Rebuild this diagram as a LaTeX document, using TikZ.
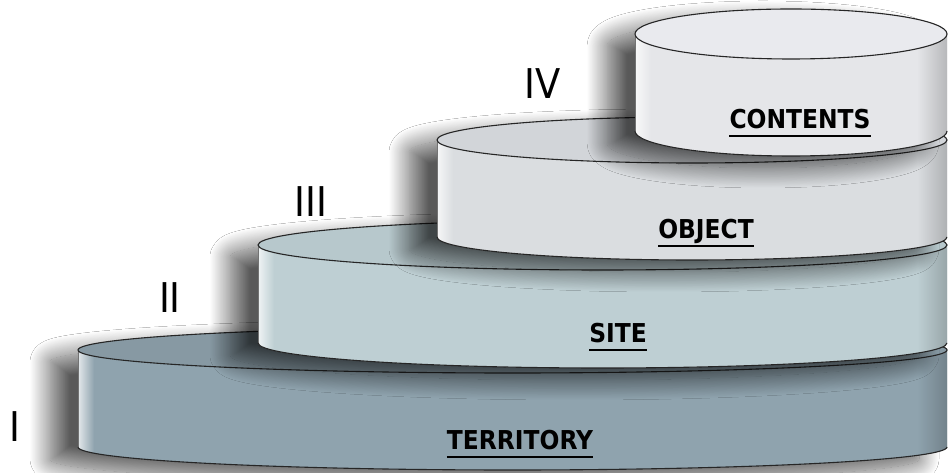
\documentclass[tikz,border=0pt]{standalone}
\usepackage{fontspec}
\setmainfont{DejaVu Sans}
\newfontfamily\numfont{DejaVu Sans Condensed}
\newfontfamily\labfont{DejaVu Sans Condensed Bold}
\usetikzlibrary{shadows.blur}
\definecolor{terside}{HTML}{8FA3AE}
\definecolor{tertop}{HTML}{8799A3}
\definecolor{siteside}{HTML}{BECFD3}
\definecolor{sitetop}{HTML}{B7C8CC}
\definecolor{objside}{HTML}{DADDE0}
\definecolor{objtop}{HTML}{D2D5D9}
\definecolor{conside}{HTML}{E5E6E9}
\definecolor{contop}{HTML}{E9EAEE}
\tikzset{
  rim/.style={draw=black!85, line width=1.1pt},
  sideedge/.style={draw=black!55, line width=0.6pt},
  numtxt/.style={font=\numfont\fontsize{41}{41}\selectfont, anchor=base, inner sep=0pt},
  labtxt/.style={font=\labfont\fontsize{26}{26}\selectfont, anchor=base, inner sep=0pt},
  uline/.style={line width=2.5pt, black},
  dshadow/.style={blur shadow={shadow xshift=-28pt, shadow yshift=-12pt, shadow blur radius=20pt, shadow blur steps=24, shadow opacity=65}},
}
% #1 cx, #2 a, #3 ytop, #4 ybot, #5 b, #6 side colour, #7 top colour
\newcommand\drawcyl[7]{%
  \pgfmathsetmacro\cylL{#1-#2}%
  \pgfmathsetmacro\cylR{#1+#2}%
  \path[dshadow, fill=#6] (\cylL,#3) -- (\cylL,#4)
     arc[start angle=180, end angle=360, x radius=#2pt, y radius=#5pt] -- (\cylR,#3)
     arc[start angle=0, end angle=180, x radius=#2pt, y radius=#5pt] -- cycle;
  \begin{scope}
    \clip (\cylL,#3) -- (\cylL,#4)
     arc[start angle=180, end angle=360, x radius=#2pt, y radius=#5pt] -- (\cylR,#3)
     arc[start angle=0, end angle=-180, x radius=#2pt, y radius=#5pt] -- cycle;
    \fill[#6] (\cylL,#4-#5) rectangle (\cylR,#3);
    \fill[left color=white!75!#6, right color=#6] (\cylL,#4-#5) rectangle (\cylL+16,#3);
    \fill[left color=#6, right color=#6!80!black] (\cylR-30,#4-#5) rectangle (\cylR,#3);
  \end{scope}
  \draw[sideedge] (\cylL,#3) -- (\cylL,#4);
  \draw[rim] (\cylL,#4) arc[start angle=180, end angle=360, x radius=#2pt, y radius=#5pt];
  \filldraw[rim, fill=#7] (#1,#3) ellipse[x radius=#2pt, y radius=#5pt];
}
\begin{document}
\begin{tikzpicture}[x=1pt, y=1pt]
\fill[white] (0,0) rectangle (949,473);
\useasboundingbox (0,0) rectangle (949,473);
\clip (0,0) rectangle (949,473);
% I  territory
\drawcyl{512.5}{434.5}{123}{26}{23}{terside}{tertop}
% II site
\drawcyl{602.5}{344.5}{228}{130}{25}{siteside}{sitetop}
% III object
\drawcyl{692}{255}{333}{236}{23}{objside}{objtop}
% IV contents
\drawcyl{791}{156}{439}{342}{25}{conside}{contop}
% labels
\node[labtxt] (ter) at (520,23) {TERRITORY};
\node[labtxt] (site) at (618,130) {SITE};
\node[labtxt] (obj) at (706,234) {OBJECT};
\node[labtxt] (con) at (800,344) {CONTENTS};
\foreach \n in {ter,site,obj,con}{
  \draw[uline] ([yshift=-7pt]\n.base west) -- ([yshift=-7pt]\n.base east);
}
% numerals
\node[numtxt] (n1) at (15,31) {I};
\node[numtxt] (n2) at (170,160) {II};
\node[numtxt] (n3) at (311,256) {III};
\node[numtxt] (n4) at (543,374) {IV};
\end{tikzpicture}
\end{document}
